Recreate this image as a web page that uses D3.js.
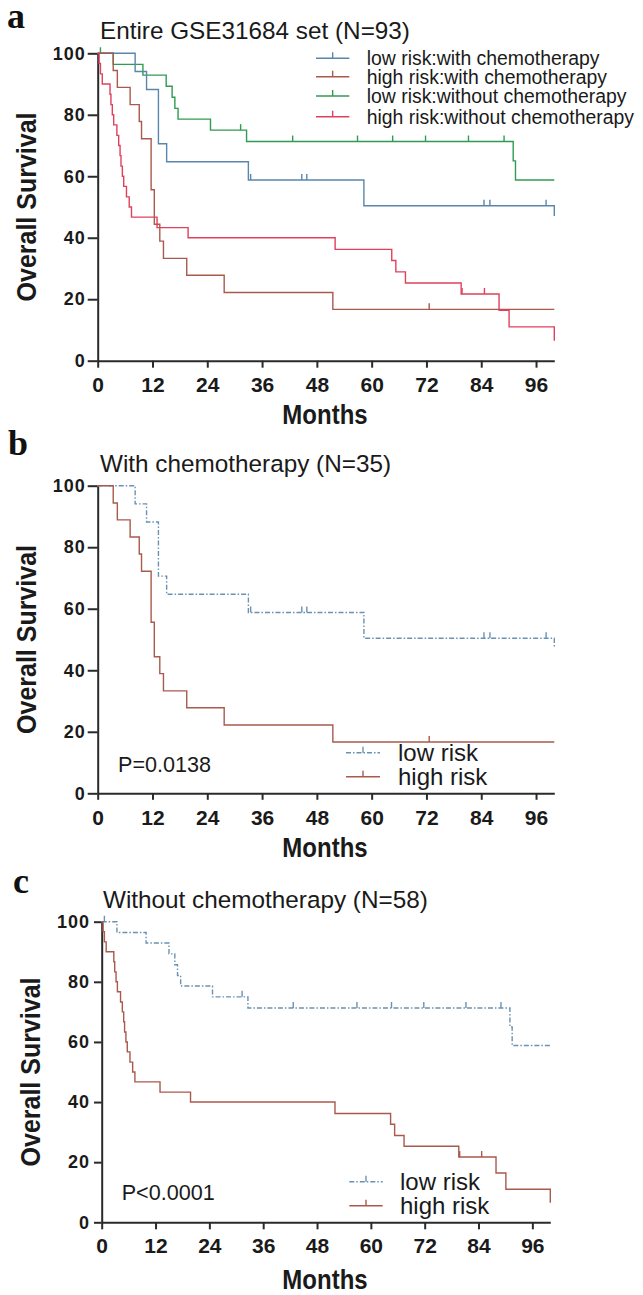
<!DOCTYPE html>
<html><head><meta charset="utf-8">
<script src="https://cdn.jsdelivr.net/npm/d3@7"></script>
<style>body{margin:0;background:#fff}svg{display:block}</style>
</head><body>
<svg id="c" width="643" height="1295"></svg>
<script>
// ---------- data ----------
const monthTicks = [0,12,24,36,48,60,72,84,96];
const survTicks = [0,20,40,60,80,100];

const lowChemoT = [0, 8.2, 10.7, 13.3, 15.1, 33.0, 58.3, 100];
const lowChemoS = [100, 94.1, 88.2, 70.6, 64.7, 58.8, 50.4, 47.1];
const lowChemoCensor = [33.5, 44.7, 45.8, 84.6, 85.9, 98.2];

const highChemoT = [0, 3.4, 4.3, 7.1, 9.1, 9.6, 11.7, 12.4, 13.6, 14.4, 19.5, 27.7, 51.5, 100];
const highChemoS = [100, 94.4, 88.9, 83.3, 77.8, 72.2, 55.6, 44.4, 38.9, 33.3, 27.8, 22.2, 16.7, 16.7];
const highChemoCensor = [72.6];

const lowNoChemoT = [0, 3.4, 9.9, 15.0, 16.3, 16.9, 17.6, 24.7, 32.6, 91.0, 91.5, 100];
const lowNoChemoS = [100, 96.4, 92.9, 89.3, 85.7, 82.1, 78.6, 75.0, 71.3, 65.0, 58.8, 58.8];
const lowNoChemoCensor = [0.6, 31.3, 42.7, 56.9, 64.6, 71.8, 81.2, 89.0];

const highNoChemoT = [0, 0.3, 0.6, 1.0, 2.7, 2.9, 3.2, 3.5, 4.2, 4.6, 4.9, 5.1, 5.4, 5.7, 6.3, 6.9, 7.4, 13.0, 19.8, 52.0, 64.4, 65.3, 67.4, 79.6, 87.9, 90.1, 100];
const highNoChemoS = [100, 96.7, 93.3, 90.0, 86.7, 83.3, 80.0, 76.7, 73.3, 70.0, 66.7, 63.3, 60.0, 56.7, 53.3, 50.0, 46.7, 43.3, 40.0, 36.2, 32.6, 28.9, 25.3, 21.7, 16.4, 11.0, 6.5];
const highNoChemoCensor = [79.8, 84.7];

const legendA = ["low risk:with chemotherapy","high risk:with chemotherapy","low risk:without chemotherapy","high risk:without chemotherapy"];
const legendBC = ["low risk","high risk"];

// ---------- styles ----------
const C = {blue:"#5b86ab", brown:"#a95a4c", green:"#2f9c50", pink:"#e0405c", blueD:"#6b91b3", axis:"#2a2a2a"};
const SANS = "'Liberation Sans', Arial, sans-serif";
const svg = d3.select("#c");

function series(T,S,cens){ return {pts:T.map((t,i)=>[t,S[i]]), cens}; }
function valueAt(s,t){ let v=s.pts[0][1]; for(const p of s.pts){ if(p[0]<=t) v=p[1]; } return v; }

function panel(cfg){
  const g = svg.append("g");
  const x = d3.scaleLinear().domain([0,100]).range(cfg.xr);
  const y = d3.scaleLinear().domain([0,100]).range(cfg.yr);
  // axes
  const ax = g.append("g").attr("transform",`translate(0,${cfg.yr[0]})`)
    .call(d3.axisBottom(x).tickValues(monthTicks).tickSize(cfg.xtick).tickSizeOuter(0).tickPadding(cfg.xpad));
  const ay = g.append("g").attr("transform",`translate(${cfg.xr[0]},0)`)
    .call(d3.axisLeft(y).tickValues(survTicks).tickSize(cfg.ytick).tickSizeOuter(0).tickPadding(cfg.ypad));
  [ax,ay].forEach(a=>{
    a.selectAll("path,line").attr("stroke",C.axis).attr("stroke-width",2);
    a.selectAll("text").attr("fill","#1a1a1a").attr("font-family",SANS).attr("font-weight","bold");
  });
  ax.selectAll("text").attr("font-size",21);
  ay.selectAll("text").attr("font-size",18).attr("letter-spacing",1);
  // curves
  const line = d3.line().x(d=>x(d[0])).y(d=>y(d[1])).curve(d3.curveStepAfter);
  cfg.series.forEach(s=>{
    g.append("path").datum(s.pts).attr("d",line).attr("fill","none")
      .attr("stroke",s.color).attr("stroke-width",1.4).attr("stroke-dasharray",s.dash||null);
    g.selectAll(null).data(s.cens).enter().append("line")
      .attr("x1",d=>x(d)).attr("x2",d=>x(d))
      .attr("y1",d=>y(valueAt(s,d))).attr("y2",d=>y(valueAt(s,d))-6)
      .attr("stroke",s.color).attr("stroke-width",1.4);
  });
  // titles
  g.append("text").attr("x",cfg.letter[0]).attr("y",cfg.letter[1]).text(cfg.letterText)
    .attr("font-family","'Liberation Serif','Times New Roman',serif").attr("font-weight","bold").attr("font-size",36).attr("fill","#111");
  g.append("text").attr("x",cfg.title[0]).attr("y",cfg.title[1]).text(cfg.titleText)
    .attr("font-family",SANS).attr("font-size",24.3).attr("fill","#1a1a1a");
  g.append("text").attr("transform",`translate(${cfg.ylab},${(cfg.yr[0]+cfg.yr[1])/2}) rotate(-90) scale(1,1.12)`)
    .attr("text-anchor","middle").text("Overall Survival")
    .attr("font-family",SANS).attr("font-weight","bold").attr("font-size",25).attr("fill","#1a1a1a");
  g.append("text").attr("transform",`translate(325,${cfg.xlab}) scale(1,1.12)`)
    .attr("text-anchor","middle").text("Months")
    .attr("font-family",SANS).attr("font-weight","bold").attr("font-size",24).attr("fill","#1a1a1a");
  if(cfg.p){
    g.append("text").attr("x",cfg.p[0]).attr("y",cfg.p[1]).text(cfg.pText)
      .attr("font-family",SANS).attr("font-size",21.6).attr("fill","#1a1a1a");
  }
  // legend
  const L = cfg.legend;
  L.items.forEach((it,i)=>{
    const ly = L.y[i];
    const lg = g.append("g");
    lg.append("line").attr("x1",L.x0).attr("x2",L.x1).attr("y1",ly).attr("y2",ly)
      .attr("stroke",it.color).attr("stroke-width",1.4).attr("stroke-dasharray",it.dash||null);
    const mx=(L.x0+L.x1)/2;
    lg.append("line").attr("x1",mx).attr("x2",mx).attr("y1",ly).attr("y2",ly-6)
      .attr("stroke",it.color).attr("stroke-width",1.4);
    lg.append("text").attr("x",L.tx).attr("y",ly+L.dy).text(it.label)
      .attr("font-family",SANS).attr("font-size",L.fs).attr("fill","#1a1a1a");
  });
}

const sLowChemo = series(lowChemoT,lowChemoS,lowChemoCensor);
const sHighChemo = series(highChemoT,highChemoS,highChemoCensor);
const sLowNo = series(lowNoChemoT,lowNoChemoS,lowNoChemoCensor);
const sHighNo = series(highNoChemoT,highNoChemoS,highNoChemoCensor);
const DD = "5,2,1.5,2";

panel({xr:[97.7,554.3], yr:[360.7,53.3], xtick:7, xpad:9, ytick:10, ypad:2,
  letter:[7,27.7], letterText:"a", title:[100,39], titleText:"Entire GSE31684 set (N=93)",
  ylab:36, xlab:424,
  series:[
    Object.assign({color:C.green},sLowNo),
    Object.assign({color:C.blue},sLowChemo),
    Object.assign({color:C.brown},sHighChemo),
    Object.assign({color:C.pink},sHighNo)],
  legend:{x0:316,x1:349.3,tx:366.7,dy:7,fs:19.4,y:[58.3,76.7,96,116.7],
    items:[{color:C.blue,label:legendA[0]},{color:C.brown,label:legendA[1]},{color:C.green,label:legendA[2]},{color:C.pink,label:legendA[3]}]}
});

panel({xr:[97.7,554.3], yr:[793.3,485.7], xtick:6.5, xpad:10, ytick:10, ypad:2,
  letter:[8,455], letterText:"b", title:[100,471.7], titleText:"With chemotherapy (N=35)",
  ylab:36, xlab:857, p:[118,771.7], pText:"P=0.0138",
  series:[
    Object.assign({color:C.blueD,dash:DD},sLowChemo),
    Object.assign({color:C.brown},sHighChemo)],
  legend:{x0:346,x1:380,tx:398,dy:8,fs:24,y:[752.7,776.7],
    items:[{color:C.blueD,dash:DD,label:legendBC[0]},{color:C.brown,label:legendBC[1]}]}
});

panel({xr:[101.7,550.3], yr:[1222.3,921.7], xtick:7, xpad:9, ytick:7.7, ypad:4,
  letter:[13,893], letterText:"c", title:[103,908.3], titleText:"Without chemotherapy (N=58)",
  ylab:40, xlab:1289, p:[121.7,1200], pText:"P<0.0001",
  series:[
    Object.assign({color:C.blueD,dash:DD},sLowNo),
    Object.assign({color:C.brown},sHighNo)],
  legend:{x0:349.3,x1:382.7,tx:400,dy:8,fs:24,y:[1181.7,1205.7],
    items:[{color:C.blueD,dash:DD,label:legendBC[0]},{color:C.brown,label:legendBC[1]}]}
});
</script>
</body></html>
